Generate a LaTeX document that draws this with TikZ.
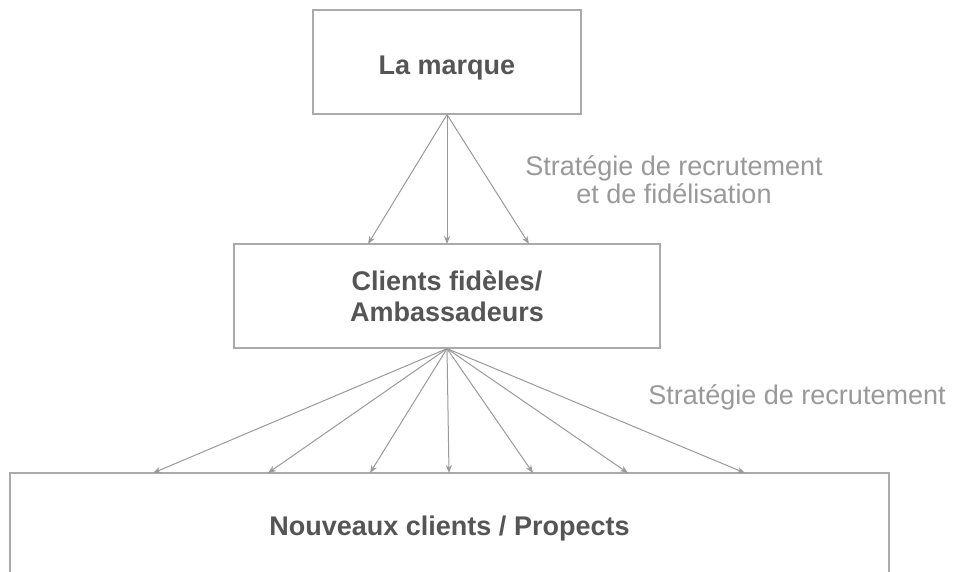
\documentclass[tikz,border=0pt]{standalone}
\usepackage{fontspec}
\setmainfont{Liberation Sans}
\usetikzlibrary{arrows.meta}
\definecolor{boxline}{HTML}{AAAAAA}
\definecolor{arrline}{HTML}{9A9A9A}
\definecolor{boxtext}{HTML}{555555}
\definecolor{lbltext}{HTML}{999999}
\tikzset{
  box/.style={draw=boxline, line width=1.2pt, rectangle, inner sep=0pt,
    font=\fontsize{27}{31}\selectfont\bfseries, text=boxtext, align=center},
  lbl/.style={font=\fontsize{27}{31}\selectfont, text=lbltext, inner sep=0pt, anchor=base},
  arr/.style={draw=arrline, line width=1pt, -{Stealth[length=8pt,width=6pt]}}
}
\begin{document}
\begin{tikzpicture}[x=1pt,y=-1pt]
\useasboundingbox (0,0) rectangle (957,571);
\fill[white] (0,0) rectangle (957,571);
\clip (0,0) rectangle (957,571);
\node[box, minimum width=268pt, minimum height=104pt] (top) at (447,62) {\raisebox{-6pt}[\height][\depth]{La marque}};
\node[box, minimum width=426pt, minimum height=104pt] (mid) at (447,296) {Clients fidèles/\\Ambassadeurs};
\node[box, minimum width=879pt, minimum height=104pt] (bot) at (449.5,525) {\raisebox{-4pt}[\height][\depth]{Nouveaux clients / Propects}};
\coordinate (m1) at (368,244);
\coordinate (m2) at (447,244);
\coordinate (m3) at (529,244);
\foreach \c in {m1,m2,m3} \draw[arr] (top.south) -- (\c);
\coordinate (b1) at (153,473);
\coordinate (b2) at (268,473);
\coordinate (b3) at (370,473);
\coordinate (b4) at (449,473);
\coordinate (b5) at (533,473);
\coordinate (b6) at (628,473);
\coordinate (b7) at (745,473);
\foreach \c in {b1,b2,b3,b4,b5,b6,b7} \draw[arr] (mid.south) -- (\c);
\node[lbl] (l1a) at (674,175) {Stratégie de recrutement};
\node[lbl] (l1b) at (674,203) {et de fidélisation};
\node[lbl] (l2) at (797,404) {Stratégie de recrutement};
\end{tikzpicture}
\end{document}
